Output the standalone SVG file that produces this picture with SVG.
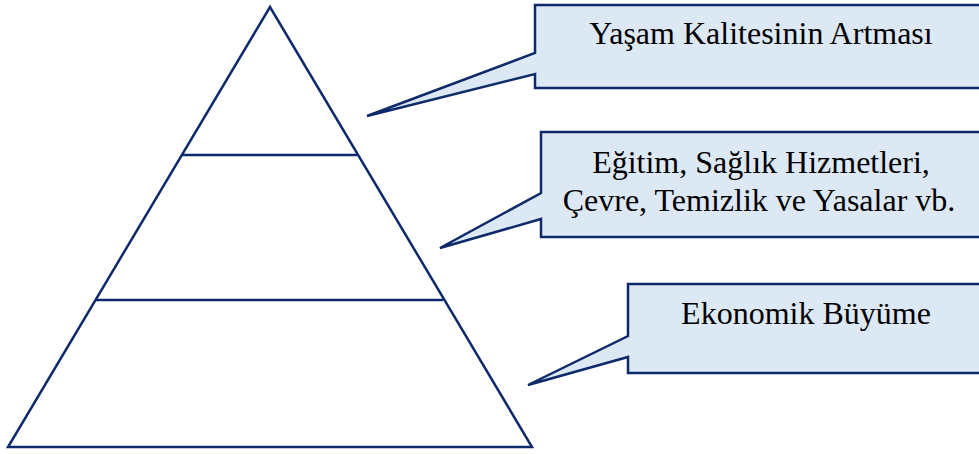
<svg xmlns="http://www.w3.org/2000/svg" width="979" height="454" viewBox="0 0 979 454">
<style>
.ln{fill:none;stroke:#0e2a6a;stroke-width:2.5;stroke-linejoin:miter}
.co{fill:#dde8f5;stroke:#0e2a6a;stroke-width:2.5;stroke-linejoin:miter}
.t{font-family:"Liberation Serif","Times New Roman",serif;font-size:32px;fill:#000;text-anchor:middle}
</style>
<rect width="979" height="454" fill="#fff"/>
<g id="pyramid">
<polygon class="ln" points="270,7 8,447 532,447"/>
<line class="ln" x1="182" y1="155" x2="357" y2="155"/>
<line class="ln" x1="96" y1="300" x2="443" y2="300"/>
</g>
<g id="callout-top">
<path class="co" d="M535,5 H990 V88 H535 V74 L367,116 L535,53 Z"/>
<text class="t" x="761" y="44">Yaşam Kalitesinin Artması</text>
</g>
<g id="callout-middle">
<path class="co" d="M541,132 H990 V237 H541 V219 L440,248 L541,193 Z"/>
<text class="t" x="761" y="173">Eğitim, Sağlık Hizmetleri,</text>
<text class="t" x="759" y="211">Çevre, Temizlik ve Yasalar vb.</text>
</g>
<g id="callout-bottom">
<path class="co" d="M628,284 H990 V373 H628 V357 L528,385 L628,336 Z"/>
<text class="t" x="806" y="324">Ekonomik Büyüme</text>
</g>
</svg>
